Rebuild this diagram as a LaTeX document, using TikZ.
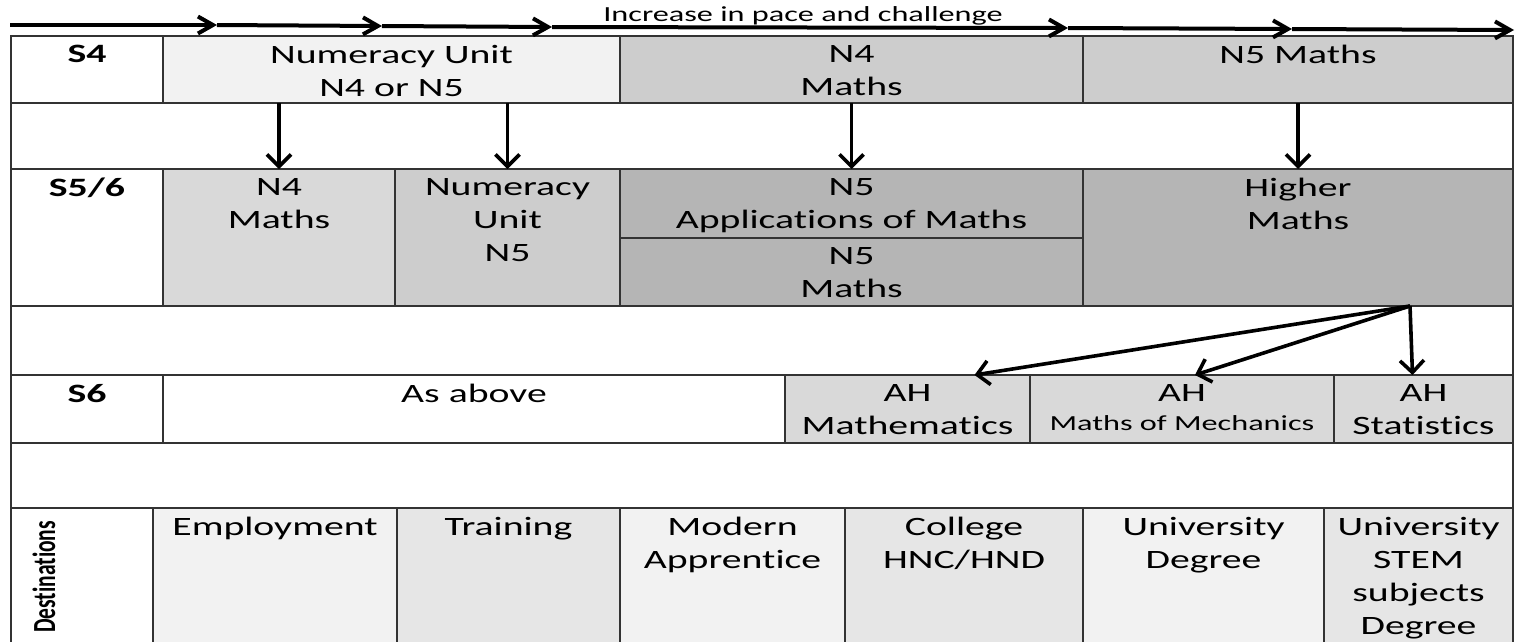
\documentclass[tikz,border=0pt]{standalone}
\usepackage{fontspec}
\setmainfont{Carlito}[FakeStretch=1.5, Ligatures=NoCommon]
\newfontfamily\plainfont{Carlito}[Ligatures=NoCommon]
\usetikzlibrary{arrows.meta}

\definecolor{paleA}{HTML}{F2F2F2}
\definecolor{paleB}{HTML}{E6E6E6}
\definecolor{midA}{HTML}{D9D9D9}
\definecolor{midB}{HTML}{CDCDCD}
\definecolor{darkA}{HTML}{B5B5B5}
\newcommand{\smalltxt}{\fontsize{21.5}{26}\selectfont}

\tikzset{
    cell/.style={
        draw=black!80, % cell border
        line width=1.6pt,
        anchor=north west,
        inner sep=0,
        outer sep=0
    },
    celltext/.style={
        anchor=north,
        align=center,
        inner sep=0,
        yshift=-9pt,
        font=\fontsize{26.5}{33}\selectfont
    },
    rowlabel/.style={
        celltext,
        font=\fontsize{26.5}{33}\selectfont\bfseries
    },
    flow/.style={
        line width=3.6pt,
        -{Straight Barb[length=12pt,width=24pt]}
    },
    pacearrow/.style={
        line width=4pt,
        -{Straight Barb[length=15pt,width=17pt]}
    }
}

\begin{document}
\begin{tikzpicture}[x=1pt, y=-1pt]
    \clip (0,0) rectangle (1517,641);
    % gap rows
    \node[cell, minimum width=1502pt, minimum height=66pt] (gapa) at (11,103) {};
    \node[cell, minimum width=1502pt, minimum height=69pt] (gapb) at (11,306) {};
    \node[cell, minimum width=1502pt, minimum height=65pt] (gapc) at (11,443) {};
    % S4
    \node[cell, minimum width=152pt, minimum height=67pt] (s4lab) at (11,36) {};
    \node[cell, fill=paleA, minimum width=457pt, minimum height=67pt] (s4num) at (163,36) {};
    \node[cell, fill=midB, minimum width=463pt, minimum height=67pt] (s4nfour) at (620,36) {};
    \node[cell, fill=midB, minimum width=430pt, minimum height=67pt] (s4nfive) at (1083,36) {};
    \node[rowlabel] (s4labt) at (s4lab.north) {S4};
    \node[celltext] (s4numt) at (s4num.north) {Numeracy Unit\\N4 or N5};
    \node[celltext] (s4nfourt) at (s4nfour.north) {N4\\Maths};
    \node[celltext] (s4nfivet) at (s4nfive.north) {N5 Maths};
    % S5/6
    \node[cell, minimum width=152pt, minimum height=137pt] (s56lab) at (11,169) {};
    \node[cell, fill=midA, minimum width=232pt, minimum height=137pt] (s56nfour) at (163,169) {};
    \node[cell, fill=midB, minimum width=225pt, minimum height=137pt] (s56num) at (395,169) {};
    \node[cell, fill=darkA, minimum width=463pt, minimum height=69pt] (s56app) at (620,169) {};
    \node[cell, fill=darkA, minimum width=463pt, minimum height=68pt] (s56nmaths) at (620,238) {};
    \node[cell, fill=darkA, minimum width=430pt, minimum height=137pt] (s56higher) at (1083,169) {};
    \node[rowlabel] (s56labt) at (s56lab.north) {S5/6};
    \node[celltext] (s56nfourt) at (s56nfour.north) {N4\\Maths};
    \node[celltext] (s56numt) at (s56num.north) {Numeracy\\Unit\\N5};
    \node[celltext] (s56appt) at (s56app.north) {N5\\Applications of Maths};
    \node[celltext] (s56nmathst) at (s56nmaths.north) {N5\\Maths};
    \node[celltext] (s56highert) at (s56higher.north) {Higher\\Maths};
    % S6
    \node[cell, minimum width=152pt, minimum height=68pt] (s6lab) at (11,375) {};
    \node[cell, minimum width=622pt, minimum height=68pt] (s6above) at (163,375) {};
    \node[cell, fill=midA, minimum width=245pt, minimum height=68pt] (ahmath) at (785,375) {};
    \node[cell, fill=midA, minimum width=304pt, minimum height=68pt] (ahmech) at (1030,375) {};
    \node[cell, fill=midA, minimum width=179pt, minimum height=68pt] (ahstat) at (1334,375) {};
    \node[rowlabel] (s6labt) at (s6lab.north) {S6};
    \node[celltext] (s6abovet) at (s6above.north) {As above};
    \node[celltext] (ahmatht) at (ahmath.north) {AH\\Mathematics};
    \node[celltext] (ahmecht) at (ahmech.north) {AH\\[-4pt]{\smalltxt Maths of Mechanics}};
    \node[celltext] (ahstatt) at (ahstat.north) {AH\\Statistics};
    % destinations
    \node[cell, minimum width=142pt, minimum height=152pt] (destlab) at (11,508) {};
    \node[cell, fill=paleA, minimum width=244pt, minimum height=152pt] (employ) at (153,508) {};
    \node[cell, fill=paleB, minimum width=223pt, minimum height=152pt] (train) at (397,508) {};
    \node[cell, fill=paleA, minimum width=225pt, minimum height=152pt] (modern) at (620,508) {};
    \node[cell, fill=paleB, minimum width=238pt, minimum height=152pt] (college) at (845,508) {};
    \node[cell, fill=paleA, minimum width=241pt, minimum height=152pt] (uni) at (1083,508) {};
    \node[cell, fill=paleB, minimum width=189pt, minimum height=152pt] (stem) at (1324,508) {};
    \node[font=\plainfont\fontsize{21.5}{26}\selectfont\bfseries, xscale=1.5, rotate=90,
        anchor=west, inner sep=0] (destlabt) at (44,633) {Destinations};
    \node[celltext] (employt) at (employ.north) {Employment};
    \node[celltext] (traint) at (train.north) {Training};
    \node[celltext] (modernt) at (modern.north) {Modern\\Apprentice};
    \node[celltext] (colleget) at (college.north) {College\\HNC/HND};
    \node[celltext] (unit) at (uni.north) {University\\Degree};
    \node[celltext] (stemt) at (stem.north) {University\\STEM\\subjects\\Degree};
    % pace arrow
    \coordinate (t0) at (10,25);
    \coordinate (t1) at (217,25);
    \coordinate (t2) at (382,26);
    \coordinate (t3) at (552,27);
    \coordinate (t4) at (1068,28);
    \coordinate (t5) at (1292,29);
    \coordinate (t6) at (1514,30);
    \foreach \a/\b in {t0/t1, t1/t2, t2/t3, t3/t4, t4/t5, t5/t6}
        \draw[pacearrow] (\a) -- (\b);
    \node[font=\smalltxt, anchor=base, inner sep=0] (pace) at (803,21) {Increase in pace and challenge};
    % S4 to S5/6
    \foreach \n in {s56nfour, s56num, s56app, s56higher}
        \draw[flow] (\n.north |- s4num.south) -- (\n.north);
    % Higher to AH
    \coordinate (fork) at ([xshift=112pt]s56higher.south);
    \draw[flow] (fork) -- ([xshift=67pt]ahmath.north);
    \draw[flow] (fork) -- ([xshift=13pt]ahmech.north);
    \draw[flow] (fork) -- ([xshift=-11pt]ahstat.north);
\end{tikzpicture}
\end{document}
